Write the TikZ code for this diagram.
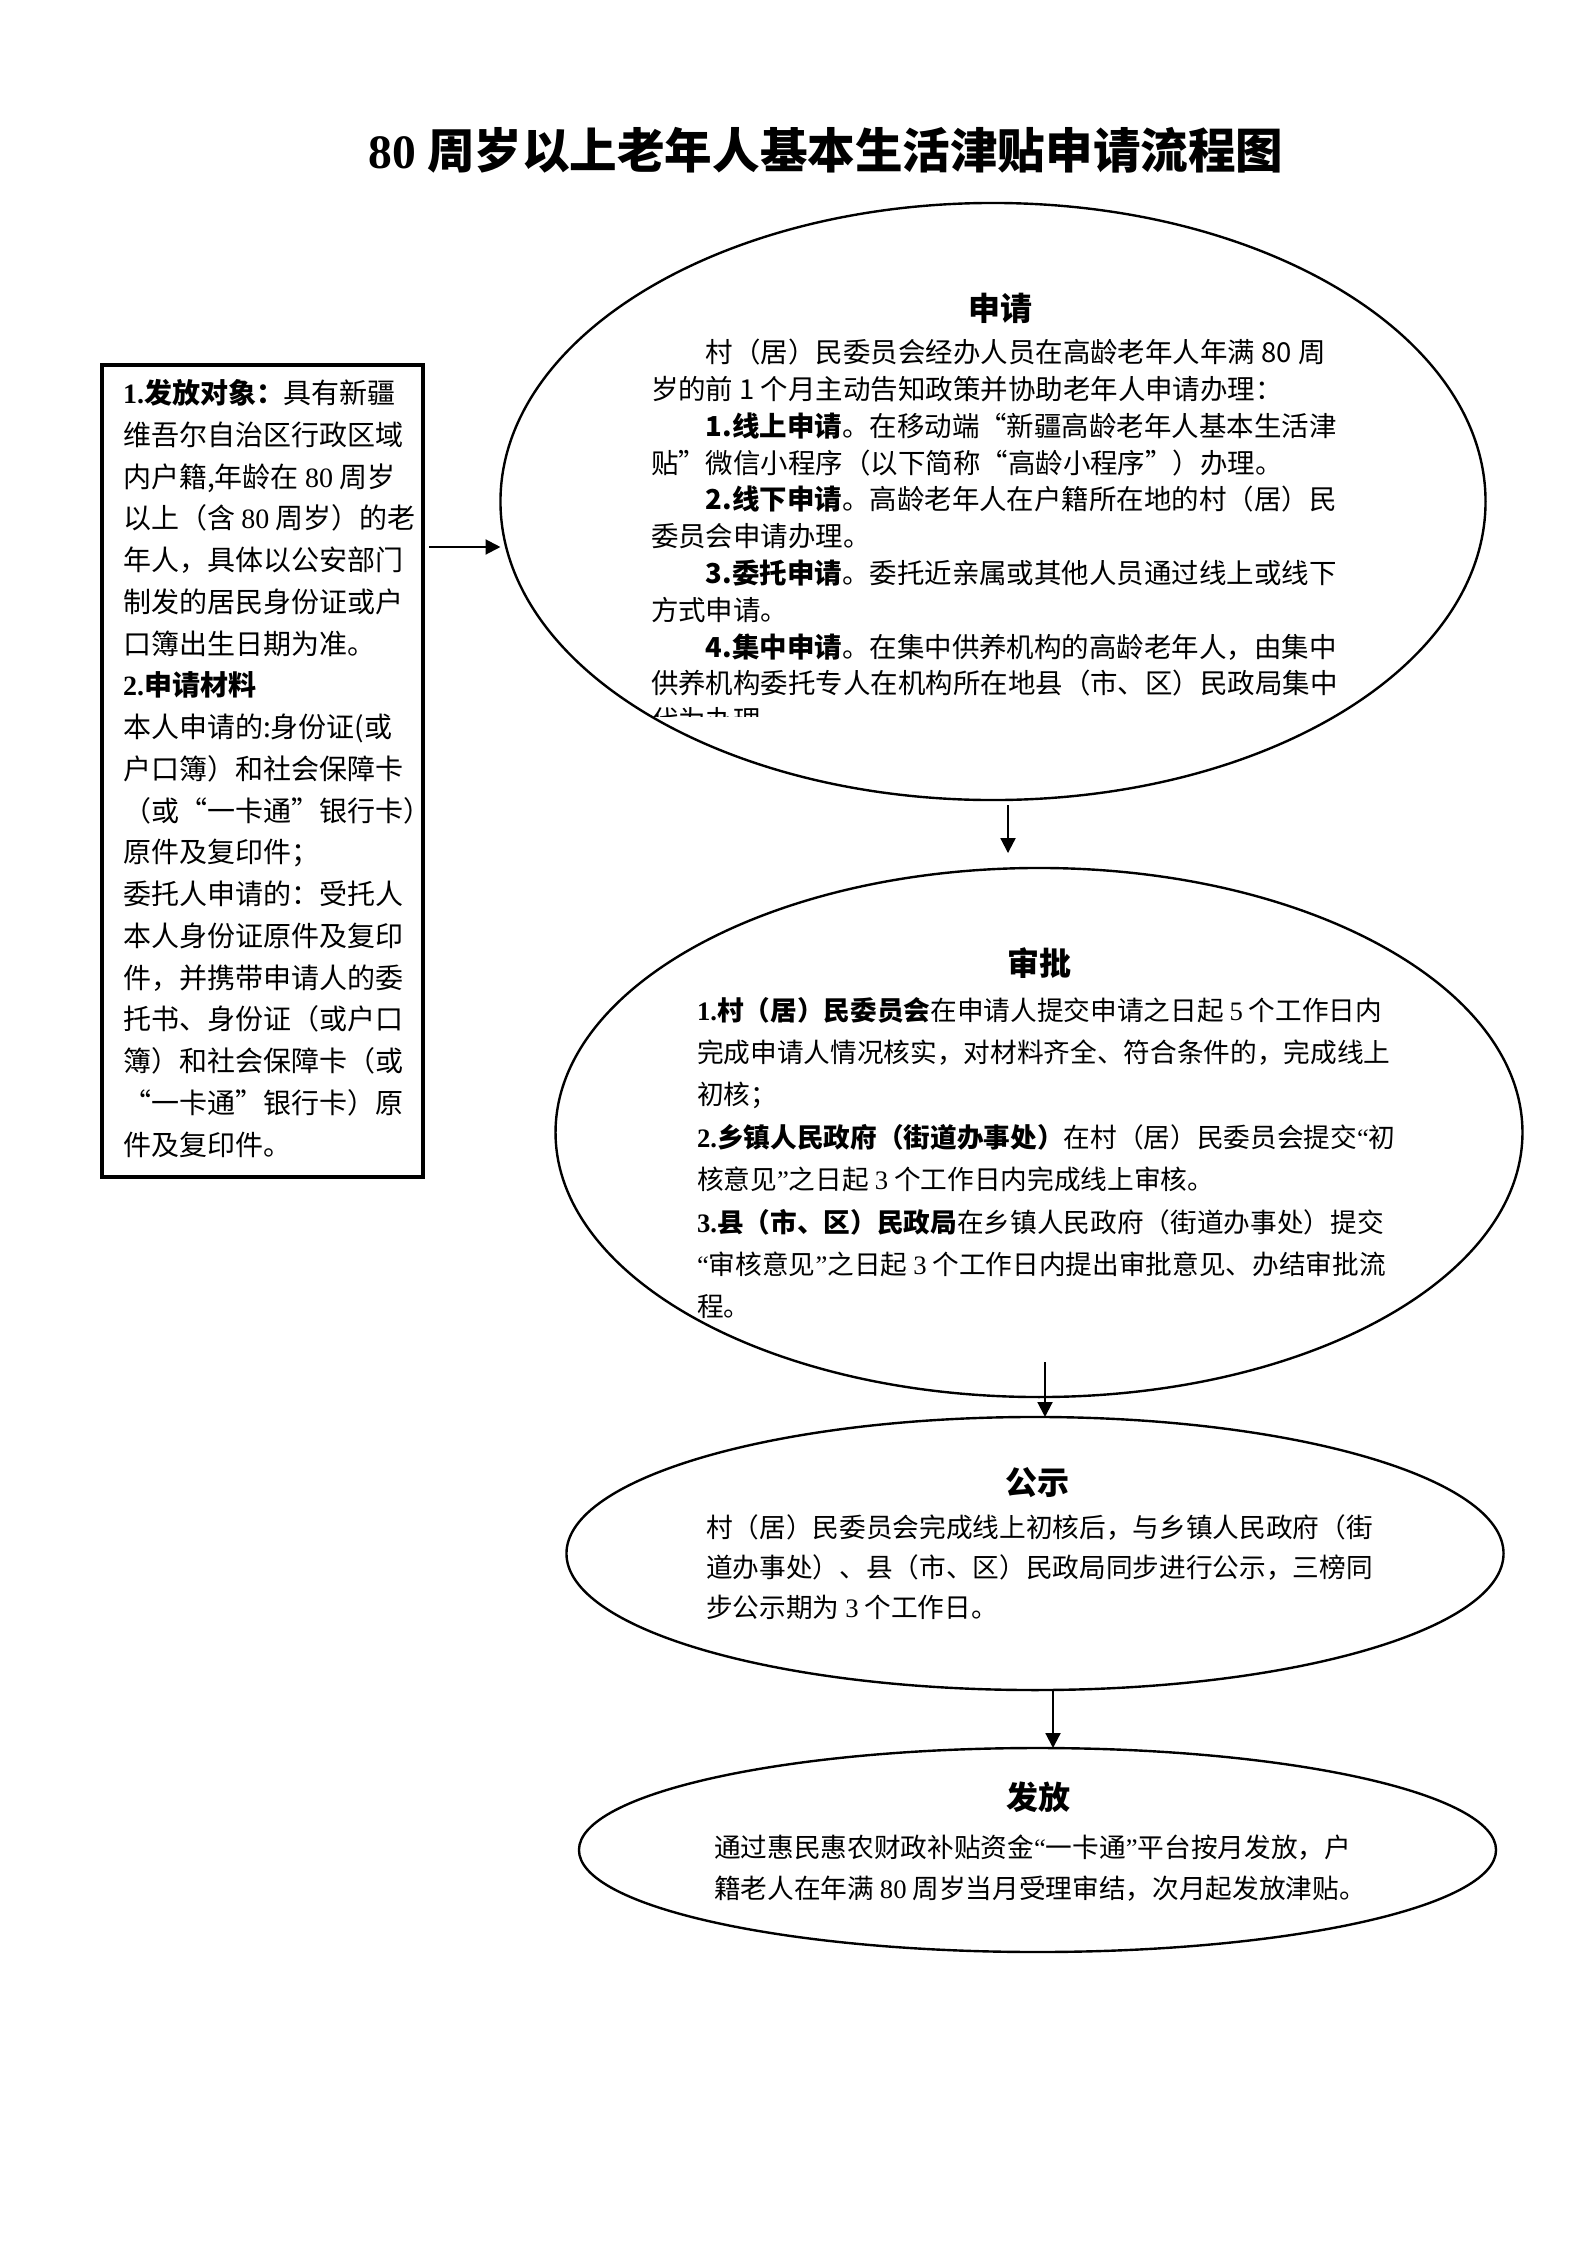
\documentclass[tikz,border=0pt]{standalone}
\usepackage{fontspec}
\usepackage{graphicx}
\setmainfont{Noto Sans CJK SC}
\newfontfamily\latf{Liberation Serif}
\newcommand\lat[1]{{\latf #1}}
\usetikzlibrary{arrows.meta,shapes.geometric}
\tikzset{
  ell/.style={draw, ellipse, line width=0.9pt, inner sep=0pt, outer sep=0pt},
  txtA/.style={inner sep=0pt, outer sep=0pt, anchor=base west, font=\fontsize{10.5pt}{12pt}\selectfont},
  txtB/.style={inner sep=0pt, outer sep=0pt, anchor=base west, font=\fontsize{10.3pt}{12pt}\selectfont},
  txtC/.style={inner sep=0pt, outer sep=0pt, anchor=base west, font=\fontsize{10pt}{12pt}\selectfont},
  hd/.style={inner sep=0pt, outer sep=0pt, anchor=base, font=\fontsize{12pt}{14pt}\selectfont\bfseries},
  arr/.style={line width=0.8pt, -{Triangle[length=5.6pt,width=5.6pt]}},
}
\begin{document}
\begin{tikzpicture}[x=0.375pt,y=-0.375pt]
\useasboundingbox (0,0) rectangle (1587,2245);
\fill[white] (0,0) rectangle (1587,2245);

% title
\node[inner sep=0pt, font=\fontsize{18pt}{20pt}\selectfont\bfseries] (title) at (826,150)
  {\resizebox{343pt}{\height}{\lat{80} 周岁以上老年人基本生活津贴申请流程图}};

% left box
\node[draw, line width=1.5pt, minimum width=120.375pt, minimum height=304.5pt, inner sep=0pt] (box) at (262.5,771) {};
\foreach \t [count=\i from 0] in {
  {{\bfseries\lat{1.}发放对象：}具有新疆},
  {维吾尔自治区行政区域},
  {内户籍,年龄在 \lat{80} 周岁},
  {以上（含 \lat{80} 周岁）的老},
  {年人，具体以公安部门},
  {制发的居民身份证或户},
  {口簿出生日期为准。},
  {{\bfseries\lat{2.}申请材料}},
  {本人申请的:身份证(或},
  {户口簿）和社会保障卡},
  {（或“一卡通”银行卡）},
  {原件及复印件；},
  {委托人申请的：受托人},
  {本人身份证原件及复印},
  {件，并携带申请人的委},
  {托书、身份证（或户口},
  {簿）和社会保障卡（或},
  {“一卡通”银行卡）原},
  {件及复印件。}}
  \node[txtA] (bl\i) at (123,{403.6+41.75*\i}) {\t};

% ellipses
\node[ell, minimum width=369.4pt, minimum height=223.9pt] (e1) at (993,501.5) {};
\node[ell, minimum width=362.6pt, minimum height=198.4pt] (e2) at (1039,1132.5) {};
\node[ell, minimum width=351.4pt, minimum height=102.4pt] (e3) at (1035,1553.5) {};
\node[ell, minimum width=343.9pt, minimum height=76.5pt] (e4) at (1037.5,1850) {};

% ellipse 1 text
\node[hd] (h1) at (1000,320) {申请};
\begin{scope}
\clip (560,330) rectangle (1420,716);
\foreach \t [count=\i from 0] in {
  {\hspace{2em}村（居）民委员会经办人员在高龄老年人年满 80 周},
  {岁的前 1 个月主动告知政策并协助老年人申请办理：},
  {\hspace{2em}{\bfseries 1.线上申请}。在移动端“新疆高龄老年人基本生活津},
  {贴”微信小程序（以下简称“高龄小程序”）办理。},
  {\hspace{2em}{\bfseries 2.线下申请}。高龄老年人在户籍所在地的村（居）民},
  {委员会申请办理。},
  {\hspace{2em}{\bfseries 3.委托申请}。委托近亲属或其他人员通过线上或线下},
  {方式申请。},
  {\hspace{2em}{\bfseries 4.集中申请}。在集中供养机构的高龄老年人，由集中},
  {供养机构委托专人在机构所在地县（市、区）民政局集中},
  {代为办理。}}
  \node[txtB] (al\i) at (651,{362.6+36.8*\i}) {\t};
\end{scope}

% ellipse 2 text
\node[hd] (h2) at (1039,975) {审批};
\foreach \t [count=\i from 0] in {
  {{\bfseries\lat{1.}村（居）民委员会}在申请人提交申请之日起 \lat{5} 个工作日内},
  {完成申请人情况核实，对材料齐全、符合条件的，完成线上},
  {初核；},
  {{\bfseries\lat{2.}乡镇人民政府（街道办事处）}在村（居）民委员会提交\lat{“}初},
  {核意见\lat{”}之日起 \lat{3} 个工作日内完成线上审核。},
  {{\bfseries\lat{3.}县（市、区）民政局}在乡镇人民政府（街道办事处）提交},
  {\lat{“}审核意见\lat{”}之日起 \lat{3} 个工作日内提出审批意见、办结审批流},
  {程。}}
  \node[txtC] (cl\i) at (697,{1020.1+42.4*\i}) {\t};

% ellipse 3 text
\node[hd] (h3) at (1037,1494) {公示};
\foreach \t [count=\i from 0] in {
  {村（居）民委员会完成线上初核后，与乡镇人民政府（街},
  {道办事处）、县（市、区）民政局同步进行公示，三榜同},
  {步公示期为 \lat{3} 个工作日。}}
  \node[txtC] (dl\i) at (706,{1537+40*\i}) {\t};

% ellipse 4 text
\node[hd] (h4) at (1038,1809) {发放};
\foreach \t [count=\i from 0] in {
  {通过惠民惠农财政补贴资金\lat{“}一卡通\lat{”}平台按月发放，户},
  {籍老人在年满 \lat{80} 周岁当月受理审结，次月起发放津贴。}}
  \node[txtC] (fl\i) at (714,{1857+41*\i}) {\t};

% connectors
\coordinate (p1) at (428,547);
\draw[arr, shorten <=1.5pt] (box.east |- p1) -- (e1.west |- p1);
\coordinate (p2) at (1008,805);
\draw[arr, shorten >=5.6pt] (p2) -- (p2 |- e2.north);
\coordinate (p3) at (1045,1362);
\draw[arr] (p3) -- (p3 |- e3.north);
\coordinate (p4) at (1053,1691);
\draw[arr] (p4) -- (p4 |- e4.north);
\end{tikzpicture}
\end{document}
